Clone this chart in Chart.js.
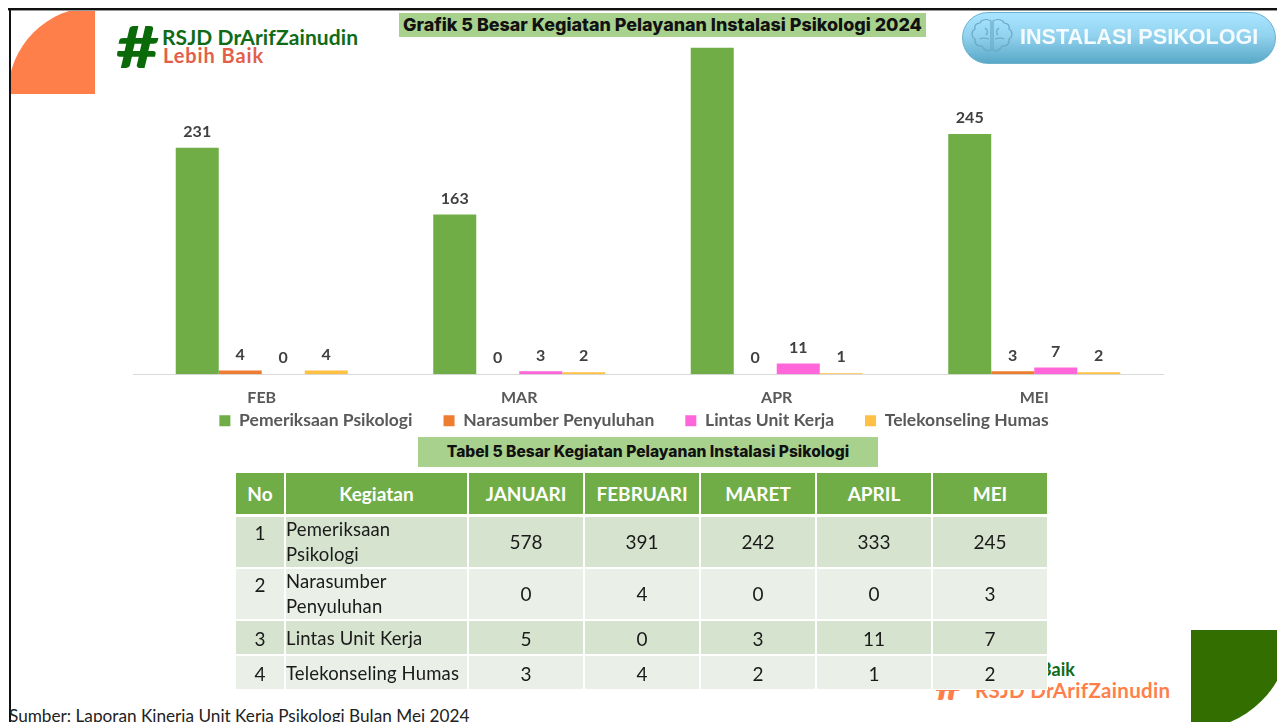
<!DOCTYPE html>
<html><head><meta charset="utf-8">
<script src="https://cdn.jsdelivr.net/npm/chart.js@4"></script>
<style>
html,body{margin:0;padding:0;background:#fff;width:1277px;height:722px;overflow:hidden}
.abs{position:absolute}
#frameT{left:8px;top:8px;width:1269px;height:2px;background:#111;border-bottom:1px solid #999}
#frameL{left:9px;top:8px;width:2px;height:714px;background:#111}
#orange{left:11px;top:10px;width:84px;height:84px;background:#FF7F4B;clip-path:circle(87px at 100% 100%)}
#greenShape{left:1191px;top:630px;width:86px;height:92px;background:#336F00;clip-path:circle(100px at 0 0)}
#hash{left:116px;top:11px;font:900 58px/70px Lato;color:#0a6a0a;transform:scaleX(1.28);transform-origin:left center}
#logo1{left:162px;top:25px;font:700 21px/24px Lato;color:#0f6b16;white-space:nowrap;letter-spacing:.1px}
#logo2{left:163px;top:44px;font:700 20px/22px Lato;color:#e2604a;white-space:nowrap;letter-spacing:.9px}
#title{left:399px;top:13px;width:527px;height:24px;background:#A9D18E;font:800 17.9px/24px Inter;color:#111;text-align:center;white-space:nowrap;z-index:3}
#pill{left:962px;top:12px;width:312px;height:50px;border-radius:26px;border:1px solid #6cb0cc;background:linear-gradient(#a9e5ff,#93d3ef 45%,#59a8c8);z-index:3}
#pilltext{left:1020px;top:23px;font:700 21.6px/28px "Liberation Sans";color:#f4fbff;white-space:nowrap;z-index:4}
#brain{left:970px;top:17px;z-index:4}
#chart{left:0;top:0;z-index:1}
#tabTitle{left:418px;top:437px;width:460px;height:30px;background:#A9D18E;font:800 15.6px/30px Inter;color:#111;text-align:center;z-index:3;white-space:nowrap}
table{position:absolute;left:235px;top:472px;border-collapse:separate;border-spacing:0;table-layout:fixed;width:813px;z-index:3;font-family:Lato;color:#1a1a1a}
td,th{border:1px solid #fff;padding:0;text-align:center;overflow:hidden}
th{background:#70AD47;color:#fff;font:700 19px/22px Lato;height:41px;border-bottom:2px solid #fff}
td{font-size:19px;line-height:22px}
tr.a td{background:#D6E3CF}
tr.b td{background:#EAF0E8}
tr.s td{padding-top:2px}
td.k{text-align:left;font-size:18.5px;line-height:25px;letter-spacing:.15px;white-space:nowrap}
td.up{vertical-align:top;padding-top:5px}
#wm1{left:992px;top:658px;font:700 18px/22px Lato;color:#0f6b16;z-index:2;white-space:nowrap}
#wm2{left:975px;top:678px;font:700 20.5px/24px Lato;color:#FF7F4B;z-index:2;white-space:nowrap;letter-spacing:.3px}
#wm3{left:935px;top:658px;font:900 46px/50px Lato;color:#FF7F4B;z-index:2;height:42px;overflow:hidden}
#src{left:9px;top:706px;font:400 17.2px/20px Lato;color:#222;white-space:nowrap;z-index:3}
</style></head><body>
<div class="abs" id="orange"></div>
<div class="abs" id="greenShape"></div>
<div class="abs" id="frameT"></div>
<div class="abs" id="frameL"></div>
<div class="abs" id="hash">#</div>
<div class="abs" id="logo1">RSJD DrArifZainudin</div>
<div class="abs" id="logo2">Lebih Baik</div>
<div class="abs" id="title">Grafik 5 Besar Kegiatan Pelayanan Instalasi Psikologi 2024</div>
<div class="abs" id="pill"></div>
<svg class="abs" id="brain" width="44" height="40" viewBox="0 0 44 40" fill="none" stroke="#6aa9c6" stroke-width="1.2">
<path d="M21 4C16 1 11 3 10 6C6 6 4 9 5 12C1 14 1 20 5 22C4 27 8 30 12 29C14 34 19 35 21 33Z"/>
<path d="M23 4C28 1 33 3 34 6C38 6 40 9 39 12C43 14 43 20 39 22C40 27 36 30 32 29C30 34 25 35 23 33Z"/>
<path d="M15 11c3 2 3 5 1 7M29 11c-3 2-3 5-1 7M10 22c3-2 6-1 9 0M34 22c-3-2-6-1-9 0"/>
</svg>
<div class="abs" id="pilltext">INSTALASI PSIKOLOGI</div>
<canvas class="abs" id="chart" width="1277" height="482"></canvas>
<div class="abs" id="tabTitle">Tabel 5 Besar Kegiatan Pelayanan Instalasi Psikologi</div>
<div class="abs" id="wm3">#</div>
<div class="abs" id="wm1">Lebih Baik</div>
<div class="abs" id="wm2">RSJD DrArifZainudin</div>
<table id="tbl"></table>
<div class="abs" id="src">Sumber: Laporan Kinerja Unit Kerja Psikologi Bulan Mei 2024</div>
<script>
const categories=['FEB','MAR','APR','MEI'];
const seriesNames=['Pemeriksaan Psikologi','Narasumber Penyuluhan','Lintas Unit Kerja','Telekonseling Humas'];
const pemeriksaan=[231,163,333,245];
const narasumber=[4,0,0,3];
const lintas=[0,3,11,7];
const telekonseling=[4,2,1,2];
const colors=['#70AD47','#ED7D31','#FF66D9','#FFC044'];

const tableHead=['No','Kegiatan','JANUARI','FEBRUARI','MARET','APRIL','MEI'];
const tableNames=[['Pemeriksaan','Psikologi'],['Narasumber','Penyuluhan'],['Lintas Unit Kerja'],['Telekonseling Humas']];
const rowJan=[578,0,5,3];
const rowFeb=[391,4,0,4];
const rowMar=[242,0,3,2];
const rowApr=[333,0,11,1];
const rowMei=[245,3,7,2];

const widths=[50,183,116,116,116,116,116];
const rowH=[52,52,35,35];
let html='<colgroup>'+widths.map(w=>`<col style="width:${w}px">`).join('')+'</colgroup><tr>'+tableHead.map(h=>`<th>${h}</th>`).join('')+'</tr>';
tableNames.forEach((n,i)=>{
  html+=`<tr class="${i%2?'b':'a'}${i>=2?' s':''}" style="height:${rowH[i]}px"><td${i<2?' class="up"':''}>${i+1}</td><td class="k">${n.join('<br>')}</td>`+
   [rowJan,rowFeb,rowMar,rowApr,rowMei].map(r=>`<td>${r[i]}</td>`).join('')+'</tr>';
});
document.getElementById('tbl').innerHTML=html;

const valueLabels={id:'valueLabels',afterDatasetsDraw(c){
  const ctx=c.ctx;ctx.save();ctx.font='700 16px Lato';ctx.fillStyle='#404040';ctx.textAlign='center';ctx.textBaseline='middle';
  c.data.datasets.forEach((d,i)=>{c.getDatasetMeta(i).data.forEach((b,j)=>{ctx.fillText(String(d.data[j]),b.x,b.y-16);});});
  ctx.restore();
}};
const legendPlace={id:'legendPlace',afterLayout(c){
  const l=c.legend,h=l.bottom-l.top;
  l.left-=14;l.right-=14;l.top=381;l.bottom=381+h;
}};
new Chart(document.getElementById('chart'),{
  type:'bar',
  data:{labels:categories,datasets:[pemeriksaan,narasumber,lintas,telekonseling].map((v,i)=>({label:seriesNames[i],data:v,backgroundColor:colors[i],barPercentage:1,categoryPercentage:0.668}))},
  options:{responsive:false,animation:false,
    layout:{padding:{left:133,right:114,top:31,bottom:2}},
    scales:{
      x:{grid:{display:false,drawTicks:false},border:{color:'#d9d9d9',width:1},ticks:{color:'#595959',font:{family:'Lato',weight:'700',size:16},padding:14}},
      y:{display:false,min:0,max:350}
    },
    plugins:{tooltip:{enabled:false},
      legend:{position:'bottom',labels:{boxWidth:11,boxHeight:11,padding:31,color:'#595959',font:{family:'Lato',weight:'700',size:17.5}}}}
  },
  plugins:[valueLabels,legendPlace]
});
</script>
</body></html>
